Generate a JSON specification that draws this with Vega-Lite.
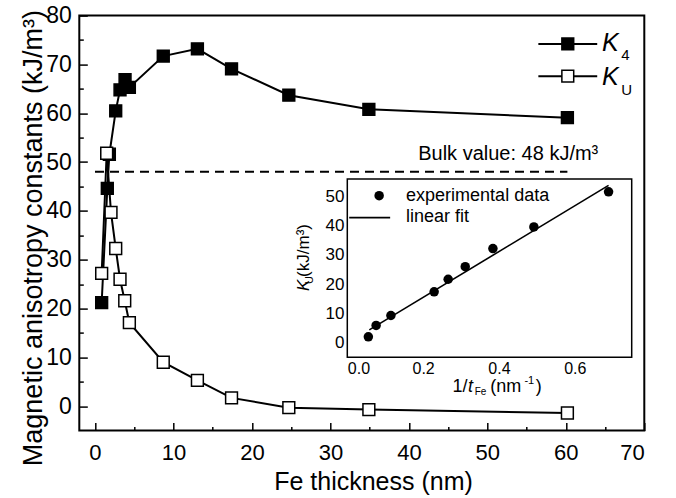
{
  "$schema": "https://vega.github.io/schema/vega-lite/v6.json",
  "width": 565,
  "height": 415,
  "autosize": {"type": "none"},
  "padding": {"left": 79.3, "top": 15.6, "right": 31.7, "bottom": 67.4},
  "background": "white",
  "config": {
    "view": {"stroke": "black", "strokeWidth": 2},
    "font": "Liberation Sans",
    "axis": {"grid": false, "domain": false, "tickColor": "black", "labelColor": "black", "titleColor": "black", "labelFont": "Liberation Sans", "titleFont": "Liberation Sans", "titleFontWeight": "normal", "tickWidth": 1.5, "zindex": 1},
    "text": {"font": "Liberation Sans", "color": "black"}
  },
  "datasets": {
    "series": [
      {"series": "K4", "t": 0.85, "v": 21.2},
      {"series": "K4", "t": 1.57, "v": 44.6},
      {"series": "K4", "t": 1.83, "v": 51.6},
      {"series": "K4", "t": 2.64, "v": 60.5},
      {"series": "K4", "t": 3.19, "v": 64.8},
      {"series": "K4", "t": 3.83, "v": 66.9},
      {"series": "K4", "t": 4.38, "v": 65.3},
      {"series": "K4", "t": 8.7, "v": 71.7},
      {"series": "K4", "t": 13.05, "v": 73.2},
      {"series": "K4", "t": 17.4, "v": 69.1},
      {"series": "K4", "t": 24.7, "v": 63.7},
      {"series": "K4", "t": 34.9, "v": 60.8},
      {"series": "K4", "t": 60.2, "v": 59.1},
      {"series": "KU", "t": 0.85, "v": 27.2},
      {"series": "KU", "t": 1.49, "v": 51.8},
      {"series": "KU", "t": 2.04, "v": 39.7},
      {"series": "KU", "t": 2.64, "v": 32.3},
      {"series": "KU", "t": 3.19, "v": 26.0},
      {"series": "KU", "t": 3.79, "v": 21.6},
      {"series": "KU", "t": 4.38, "v": 17.1},
      {"series": "KU", "t": 8.7, "v": 9.0},
      {"series": "KU", "t": 13.05, "v": 5.3},
      {"series": "KU", "t": 17.4, "v": 1.7},
      {"series": "KU", "t": 24.7, "v": -0.3},
      {"series": "KU", "t": 34.9, "v": -0.7},
      {"series": "KU", "t": 60.2, "v": -1.4}
    ],
    "legendKey": [
      {"series": "K4", "t": 56.5, "v": 74.2},
      {"series": "K4", "t": 64.0, "v": 74.2},
      {"series": "KU", "t": 56.5, "v": 67.6},
      {"series": "KU", "t": 64.0, "v": 67.6}
    ],
    "legendSym": [
      {"series": "K4", "t": 60.25, "v": 74.2},
      {"series": "KU", "t": 60.25, "v": 67.6}
    ],
    "legendK": [
      {"t": 64.6, "v": 72.85, "label": "K"},
      {"t": 64.6, "v": 65.7, "label": "K"}
    ],
    "legendSub": [
      {"t": 67.05, "v": 70.9, "label": "4"},
      {"t": 67.05, "v": 63.8, "label": "U"}
    ],
    "bulk": [{"t": 0, "t2": 60.2, "v": 48}],
    "bulkText": [{"t": 52.66, "v": 50.5, "label": "Bulk value: 48 kJ/m³"}],
    "exp": [
      {"x": 0.0555, "y": 2.0},
      {"x": 0.076, "y": 5.9},
      {"x": 0.115, "y": 9.3},
      {"x": 0.229, "y": 17.4},
      {"x": 0.266, "y": 21.7},
      {"x": 0.311, "y": 26.0},
      {"x": 0.384, "y": 32.2},
      {"x": 0.492, "y": 39.6},
      {"x": 0.689, "y": 51.6}
    ],
    "fit": [{"x": 0.058, "y": 4.4}, {"x": 0.689, "y": 53.8}],
    "insetFrame": [{"x": 0, "x2": 0.75, "y": -5, "y2": 56}],
    "insetLegSym": [{"x": 0.084, "y": 50.3}],
    "insetLegLine": [{"x": 0.005, "y": 42.8}, {"x": 0.113, "y": 42.8}],
    "insetLegText": [
      {"x": 0.155, "y": 50.3, "label": "experimental data"},
      {"x": 0.155, "y": 43.0, "label": "linear fit"}
    ],
    "yTitleK": [{"x": -0.101, "y": 17.7, "label": "K"}],
    "yTitleSub": [{"x": -0.091, "y": 20.1, "label": "U"}],
    "yTitleRest": [{"x": -0.101, "y": 22.5, "label": "(kJ/m³)"}],
    "xTitleA": [{"x": 0.317, "y": -16.86, "label": "1/"}],
    "xTitleT": [{"x": 0.318, "y": -16.86, "label": "t"}],
    "xTitleSub": [{"x": 0.336, "y": -17.88, "label": "Fe"}],
    "xTitleRest": [
      {"x": 0.377, "y": -16.86, "label": "(nm"},
      {"x": 0.497, "y": -16.86, "label": ")"}
    ],
    "xTitleSup": [{"x": 0.467, "y": -14.15, "label": "-1"}]
  },
  "layer": [
    {
      "encoding": {
        "x": {
          "field": "t", "type": "quantitative",
          "scale": {"domain": [-2, 70], "nice": false, "zero": false},
          "axis": {
            "orient": "bottom",
            "values": [0, 10, 20, 30, 40, 50, 60, 70],
            "tickSize": -8,
            "labelFontSize": 22,
            "labelPadding": 20,
            "title": "Fe thickness (nm)",
            "titleFontSize": 25,
            "titleX": 293.7,
            "titleY": 59,
            "titleBaseline": "alphabetic",
            "titleAlign": "center"
          }
        },
        "y": {
          "field": "v", "type": "quantitative",
          "scale": {"domain": [-5, 80], "nice": false, "zero": false},
          "axis": {
            "orient": "left",
            "values": [0, 10, 20, 30, 40, 50, 60, 70, 80],
            "tickSize": -8,
            "labelFontSize": 23,
            "labelPadding": 16,
            "title": "Magnetic anisotropy constants (kJ/m³)",
            "titleFontSize": 27,
            "titleX": -37.6,
            "titleY": 222,
            "titleAngle": 270,
            "titleBaseline": "alphabetic",
            "titleAlign": "center"
          }
        }
      },
      "layer": [
        {
          "data": {"name": "series"},
          "mark": {"type": "line", "color": "black", "strokeWidth": 2},
          "encoding": {"detail": {"field": "series"}}
        },
        {
          "data": {"name": "series"},
          "mark": {"type": "point", "shape": "square", "size": 140, "filled": true, "stroke": "black", "strokeWidth": 1.5, "opacity": 1},
          "encoding": {"fill": {"field": "series", "type": "nominal", "scale": {"domain": ["K4", "KU"], "range": ["black", "white"]}, "legend": null}}
        },
        {
          "data": {"name": "legendKey"},
          "mark": {"type": "line", "color": "black", "strokeWidth": 2},
          "encoding": {"detail": {"field": "series"}}
        },
        {
          "data": {"name": "legendSym"},
          "mark": {"type": "point", "shape": "square", "size": 140, "filled": true, "stroke": "black", "strokeWidth": 1.5, "opacity": 1},
          "encoding": {"fill": {"field": "series", "type": "nominal", "legend": null}}
        },
        {
          "data": {"name": "legendK"},
          "mark": {"type": "text", "fontSize": 25, "fontStyle": "italic", "align": "left", "baseline": "alphabetic"},
          "encoding": {"text": {"field": "label"}}
        },
        {
          "data": {"name": "legendSub"},
          "mark": {"type": "text", "fontSize": 15, "align": "left", "baseline": "alphabetic"},
          "encoding": {"text": {"field": "label"}}
        }
      ]
    },
    {
      "encoding": {
        "x": {
          "field": "t", "type": "quantitative",
          "scale": {"domain": [-2, 70], "nice": false, "zero": false},
          "axis": {
            "orient": "bottom",
            "values": [5, 15, 25, 35, 45, 55, 65],
            "tickSize": -4,
            "labels": false,
            "title": null
          }
        },
        "y": {
          "field": "v", "type": "quantitative",
          "scale": {"domain": [-5, 80], "nice": false, "zero": false},
          "axis": {
            "orient": "left",
            "values": [5, 15, 25, 35, 45, 55, 65, 75],
            "tickSize": -4,
            "labels": false,
            "title": null
          }
        }
      },
      "layer": [
        {
          "data": {"name": "bulk"},
          "mark": {"type": "rule", "strokeDash": [9, 6], "strokeWidth": 2, "color": "black"},
          "encoding": {"x2": {"field": "t2"}}
        },
        {
          "data": {"name": "bulkText"},
          "mark": {"type": "text", "fontSize": 20, "align": "center", "baseline": "alphabetic"},
          "encoding": {"text": {"field": "label"}}
        }
      ]
    },
    {
      "encoding": {
        "x": {
          "field": "x", "type": "quantitative",
          "scale": {"domain": [0, 0.75], "range": [268, 552.4], "nice": false, "zero": false},
          "axis": {
            "orient": "bottom",
            "offset": -73.3,
            "values": [0, 0.1, 0.2, 0.3, 0.4, 0.5, 0.6, 0.7],
            "labelExpr": "round(datum.value * 10) % 2 === 0 ? format(datum.value, '.1f') : ''",
            "tickSize": -5,
            "labelFontSize": 16,
            "labelPadding": 8,
            "title": null
          }
        },
        "y": {
          "field": "y", "type": "quantitative",
          "scale": {"domain": [-5, 56], "range": [341.7, 163.4], "nice": false, "zero": false},
          "axis": {
            "orient": "left",
            "offset": -268,
            "values": [0, 10, 20, 30, 40, 50],
            "tickSize": -5,
            "labelFontSize": 17,
            "labelPadding": 8.3,
            "title": null
          }
        }
      },
      "layer": [
        {
          "data": {"name": "insetFrame"},
          "mark": {"type": "rect", "fill": "white", "stroke": "black", "strokeWidth": 1.5},
          "encoding": {"x2": {"field": "x2"}, "y2": {"field": "y2"}}
        },
        {
          "data": {"name": "fit"},
          "mark": {"type": "line", "color": "black", "strokeWidth": 1.6},
          "encoding": {}
        },
        {
          "data": {"name": "exp"},
          "mark": {"type": "circle", "size": 90, "color": "black", "opacity": 1}
        },
        {
          "data": {"name": "insetLegSym"},
          "mark": {"type": "circle", "size": 90, "color": "black", "opacity": 1}
        },
        {
          "data": {"name": "insetLegLine"},
          "mark": {"type": "line", "color": "black", "strokeWidth": 1.6},
          "encoding": {}
        },
        {
          "data": {"name": "insetLegText"},
          "mark": {"type": "text", "fontSize": 18, "align": "left", "baseline": "middle"},
          "encoding": {"text": {"field": "label"}}
        },
        {
          "data": {"name": "yTitleK"},
          "mark": {"type": "text", "fontSize": 17, "fontStyle": "italic", "angle": 270, "align": "left", "baseline": "alphabetic"},
          "encoding": {"text": {"field": "label"}}
        },
        {
          "data": {"name": "yTitleSub"},
          "mark": {"type": "text", "fontSize": 11, "angle": 270, "align": "left", "baseline": "alphabetic"},
          "encoding": {"text": {"field": "label"}}
        },
        {
          "data": {"name": "yTitleRest"},
          "mark": {"type": "text", "fontSize": 17, "angle": 270, "align": "left", "baseline": "alphabetic"},
          "encoding": {"text": {"field": "label"}}
        },
        {
          "data": {"name": "xTitleA"},
          "mark": {"type": "text", "fontSize": 18, "align": "right", "baseline": "alphabetic"},
          "encoding": {"text": {"field": "label"}}
        },
        {
          "data": {"name": "xTitleT"},
          "mark": {"type": "text", "fontSize": 18, "fontStyle": "italic", "align": "left", "baseline": "alphabetic"},
          "encoding": {"text": {"field": "label"}}
        },
        {
          "data": {"name": "xTitleSub"},
          "mark": {"type": "text", "fontSize": 10, "align": "left", "baseline": "alphabetic"},
          "encoding": {"text": {"field": "label"}}
        },
        {
          "data": {"name": "xTitleRest"},
          "mark": {"type": "text", "fontSize": 18, "align": "left", "baseline": "alphabetic"},
          "encoding": {"text": {"field": "label"}}
        },
        {
          "data": {"name": "xTitleSup"},
          "mark": {"type": "text", "fontSize": 11, "align": "left", "baseline": "alphabetic"},
          "encoding": {"text": {"field": "label"}}
        }
      ]
    }
  ],
  "resolve": {
    "scale": {"x": "independent", "y": "independent", "fill": "independent"},
    "axis": {"x": "independent", "y": "independent"}
  }
}
